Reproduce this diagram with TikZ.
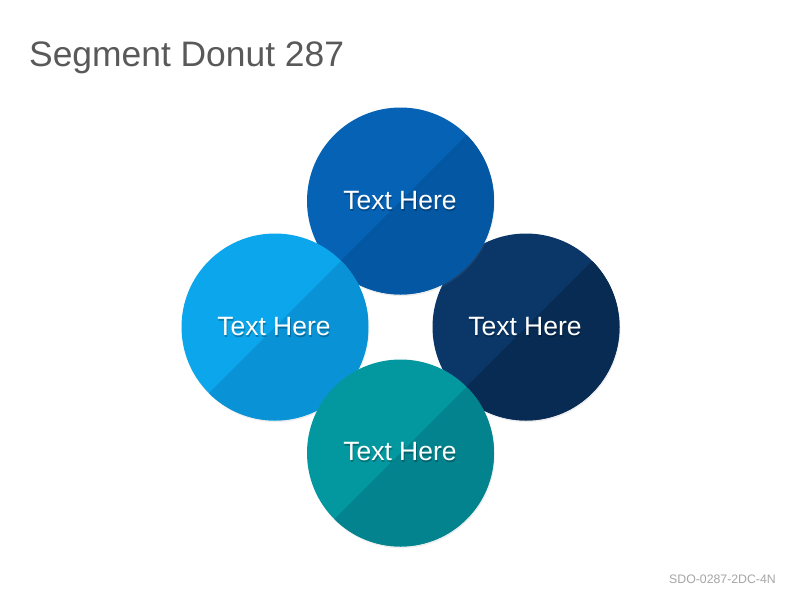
\documentclass[tikz,border=0pt]{standalone}
\usepackage{fontspec}
\setmainfont{Liberation Sans}
\usetikzlibrary{shadows}
\definecolor{titlegray}{HTML}{595959}
\definecolor{footgray}{HTML}{A6A6A6}
\definecolor{cTopA}{HTML}{0562B5}
\definecolor{cTopB}{HTML}{0457A3}
\definecolor{cLeftA}{HTML}{0BA6EC}
\definecolor{cLeftB}{HTML}{0993D6}
\definecolor{cRightA}{HTML}{0B3768}
\definecolor{cRightB}{HTML}{082B54}
\definecolor{cBotA}{HTML}{03989F}
\definecolor{cBotB}{HTML}{02838D}
\tikzset{
  seg/.style 2 args={circle, minimum size=187pt, inner sep=0pt, fill=#1,
    drop shadow={opacity=0.15, shadow xshift=0.8pt, shadow yshift=-1.6pt},
    path picture={\fill[#2] (path picture bounding box.south west) -- (path picture bounding box.north east) -- (path picture bounding box.south east) -- cycle;}},
  segtext/.style={text=white, font=\fontsize{26.5}{30}\selectfont},
  segshadow/.style={text=black, text opacity=0.25, font=\fontsize{26.5}{30}\selectfont},
}
\begin{document}
\begin{tikzpicture}[x=1pt,y=-1pt]
\useasboundingbox[fill=white] (0,0) rectangle (800,600);
\node[anchor=base west, text=titlegray, font=\fontsize{35.4}{40}\selectfont, inner sep=0pt] (title) at (29,66) {Segment Donut 287};
\node[anchor=base east, text=footgray, font=\fontsize{12.3}{14}\selectfont, inner sep=0pt] (foot) at (776,583) {SDO-0287-2DC-4N};
% circles: right, top, left, bottom
\node[seg={cRightA}{cRightB}] (right) at (526,327) {};
\node[seg={cTopA}{cTopB}] (top) at (400.5,201) {};
\node[seg={cLeftA}{cLeftB}] (left) at (275,327) {};
\node[seg={cBotA}{cBotB}] (bottom) at (400.5,453) {};
% text shadows and texts
\foreach \n/\xx/\yy in {tTop/400/201, tLeft/274/327, tRight/525/327, tBot/400/452}{
  \node[segshadow] (\n s) at (\xx+0.8,\yy+1.4) {Text Here};
  \node[segtext] (\n) at (\xx,\yy) {Text Here};
}
\end{tikzpicture}
\end{document}
